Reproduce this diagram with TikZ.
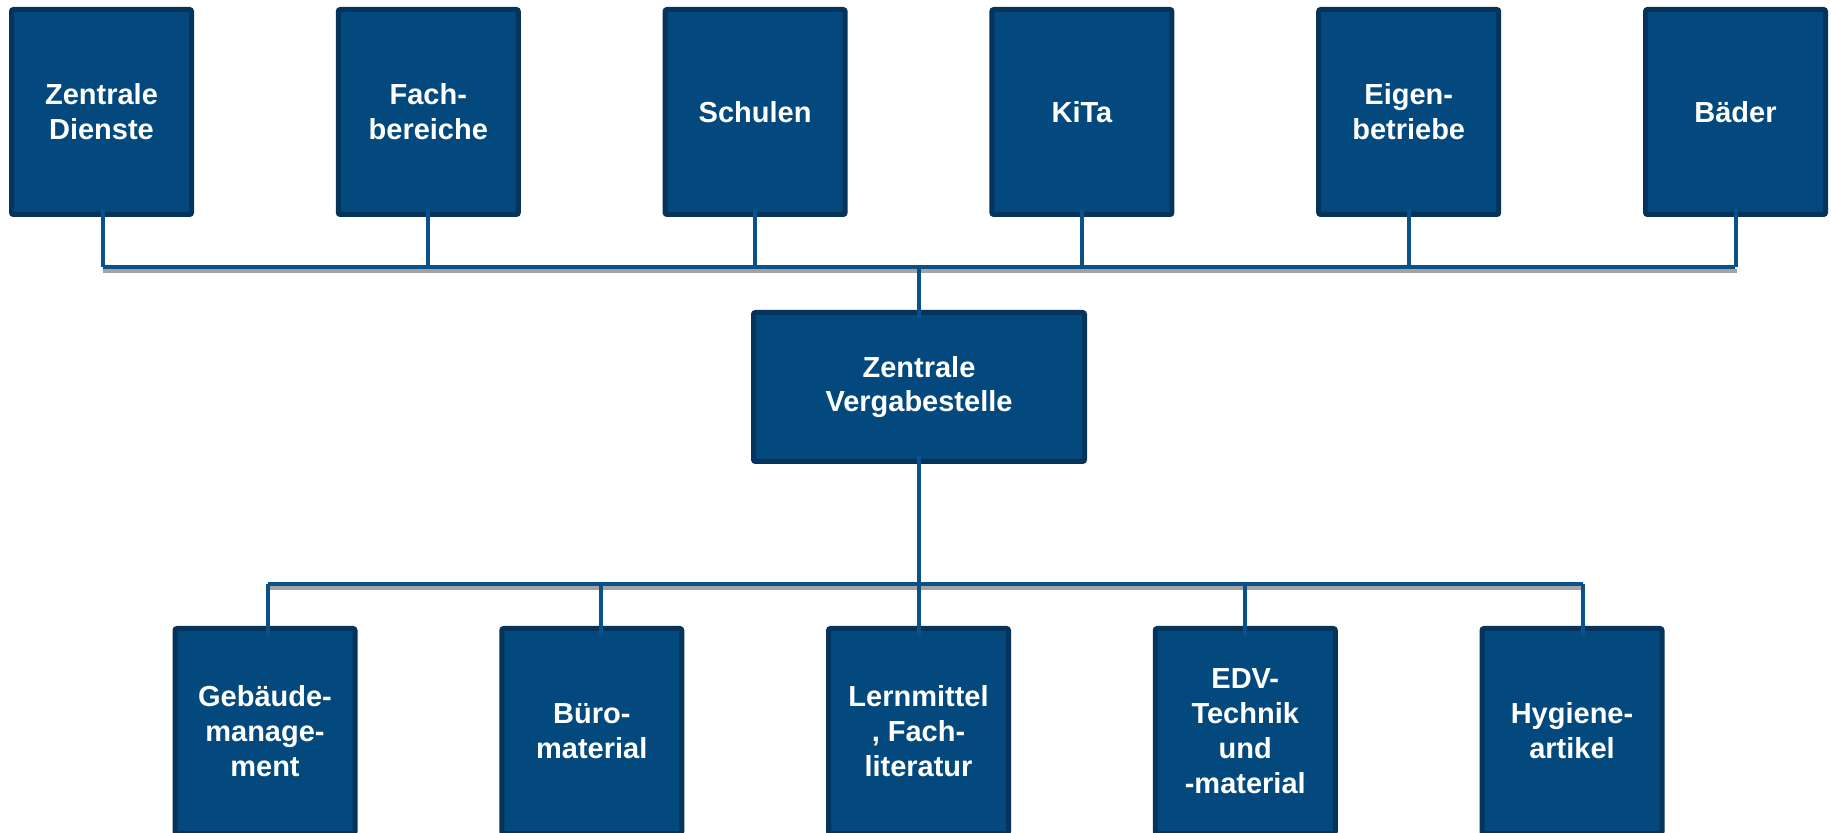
\documentclass[tikz,border=0pt]{standalone}
\usepackage{fontspec}
\setmainfont{Liberation Sans}
\usetikzlibrary{calc}
\definecolor{boxfill}{HTML}{03497E}
\definecolor{boxborder}{HTML}{05335A}
\definecolor{linecol}{HTML}{0C5089}
\definecolor{shadowgray}{HTML}{A3A3A3}
\begin{document}
\begin{tikzpicture}[x=0.5pt,y=-0.5pt,
  box/.style={draw=boxborder, fill=boxfill, line width=2.5pt, rounded corners=1pt,
    minimum width=90pt, minimum height=102.5pt, inner sep=0pt, text=white, align=center,
    font=\fontsize{14.5pt}{17.4pt}\selectfont\bfseries},
  widebox/.style={box, minimum width=165.5pt, minimum height=74.5pt},
  conn/.style={draw=linecol, line width=2pt},
  shadowline/.style={draw=shadowgray, line width=2pt}]
\useasboundingbox (0,0) rectangle (1831,833);
% top row
\node[box] (zd) at (101.5,112) {Zentrale\\Dienste};
\node[box] (fb) at (428.3,112) {Fach-\\bereiche};
\node[box] (sc) at (755.1,112) {Schulen};
\node[box] (ki) at (1081.9,112) {KiTa};
\node[box] (eb) at (1408.7,112) {Eigen-\\betriebe};
\node[box] (bd) at (1735.5,112) {Bäder};
% middle
\node[widebox] (zv) at (919,387) {Zentrale\\Vergabestelle};
% bottom row
\node[box] (gb) at (265,731) {Gebäude-\\manage-\\ment};
\node[box] (bm) at (591.75,731) {Büro-\\material};
\node[box] (lm) at (918.5,731) {Lernmittel\\, Fach-\\literatur};
\node[box] (ed) at (1245.25,731) {EDV-\\Technik\\und\\-material};
\node[box] (hy) at (1572,731) {Hygiene-\\artikel};
% bus coordinates
\coordinate (busL) at (103,267);
\coordinate (busR) at (1735,267);
\coordinate (bbL) at (268,584);
\coordinate (bbR) at (1583,584);
\coordinate (tap2) at (601,584);
\coordinate (tap4) at (1245,584);
% shadows
\draw[shadowline] ($(busL)+(0,4)$) -- ($(busR)+(2,4)$);
\draw[shadowline] ($(bbL)+(0,4)$) -- ($(bbR)+(2,4)$);
% buses
\draw[conn] (busL) -- (busR);
\draw[conn] (bbL) -- (bbR);
% top connectors
\draw[conn] ([yshift=4pt]zd.south -| busL) -- (busL);
\draw[conn] ([yshift=4pt]fb.south) -- (fb.south |- busL);
\draw[conn] ([yshift=4pt]sc.south) -- (sc.south |- busL);
\draw[conn] ([yshift=4pt]ki.south) -- (ki.south |- busL);
\draw[conn] ([yshift=4pt]eb.south) -- (eb.south |- busL);
\draw[conn] ([yshift=4pt]bd.south) -- (bd.south |- busL);
% middle connectors
\draw[conn] (zv.north |- busL) -- ([yshift=-4pt]zv.north);
\draw[conn] ([yshift=4pt]zv.south) -- ([yshift=-5pt]lm.north -| zv.south);
% bottom connectors
\draw[conn] (bbL) -- ([yshift=-5pt]gb.north -| bbL);
\draw[conn] (tap2) -- ([yshift=-5pt]bm.north -| tap2);
\draw[conn] (tap4) -- ([yshift=-5pt]ed.north -| tap4);
\draw[conn] (bbR) -- ([yshift=-5pt]hy.north -| bbR);
\end{tikzpicture}
\end{document}
